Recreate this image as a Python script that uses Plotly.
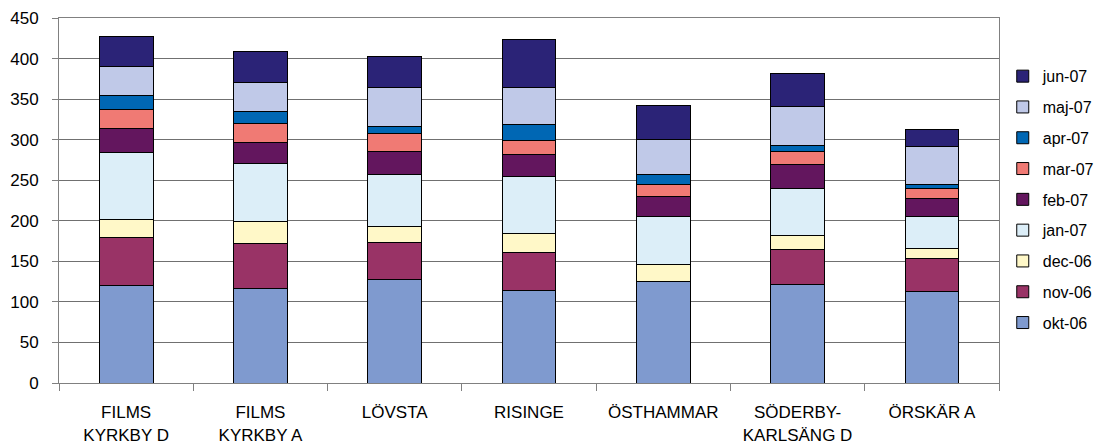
import plotly.graph_objects as go

categories = ["FILMS<br>KYRKBY D", "FILMS<br>KYRKBY A", "LÖVSTA", "RISINGE",
              "ÖSTHAMMAR", "SÖDERBY-<br>KARLSÄNG D", "ÖRSKÄR A"]

months = ["okt-06", "nov-06", "dec-06", "jan-07", "feb-07",
          "mar-07", "apr-07", "maj-07", "jun-07"]

okt_06 = [120, 116, 127, 114, 125, 122, 113]
nov_06 = [59, 56, 46, 47, 0, 43, 41]
dec_06 = [23, 27, 20, 23, 21, 17, 12]
jan_07 = [82, 72, 64, 71, 59, 58, 39]
feb_07 = [30, 26, 29, 27, 25, 30, 23]
mar_07 = [23, 23, 21, 17, 15, 15, 12]
apr_07 = [17, 15, 9, 20, 12, 8, 5]
maj_07 = [36, 35, 48, 45, 43, 48, 46]
jun_07 = [37, 39, 39, 60, 42, 41, 22]

series = [okt_06, nov_06, dec_06, jan_07, feb_07, mar_07, apr_07, maj_07, jun_07]

colors = ["#7F9ACF", "#993366", "#FFF8C8", "#DCEEF8", "#63165E",
          "#F07A74", "#0067B4", "#C0C9E8", "#2B2377"]

fig = go.Figure()
for i, (name, vals, col) in enumerate(zip(months, series, colors)):
    fig.add_trace(go.Bar(
        x=categories, y=vals, name=name, legendgroup=name,
        legendrank=1000 - i,
        marker=dict(color=col, line=dict(color="#000000", width=1)),
    ))

fig.update_layout(
    barmode="stack",
    bargap=0.6,
    width=1098, height=447,
    margin=dict(l=59, r=99, t=18, b=64, autoexpand=False),
    paper_bgcolor="white", plot_bgcolor="white",
    font=dict(family="Liberation Sans, Arial, sans-serif", size=17, color="#000000"),
    showlegend=True,
    legend=dict(
        x=1.004, y=0.887, xanchor="left", yanchor="top",
        traceorder="grouped", tracegroupgap=7,
        font=dict(size=16), itemwidth=30,
        bgcolor="rgba(0,0,0,0)",
    ),
    xaxis=dict(
        type="category", tickson="boundaries", ticks="outside", ticklen=7,
        tickcolor="#808080", showline=True, linecolor="#808080", mirror=True,
        showgrid=False, tickfont=dict(size=17), ticklabelstandoff=14,
        automargin=False,
    ),
    yaxis=dict(
        range=[0, 450], dtick=50, ticks="outside", ticklen=6, tickcolor="#808080",
        showline=True, linecolor="#808080", mirror=True,
        showgrid=True, gridcolor="#707070", gridwidth=1,
        zeroline=False, tickfont=dict(size=17), ticklabelstandoff=10,
        automargin=False,
    ),
)

fig.write_html("out.html")
